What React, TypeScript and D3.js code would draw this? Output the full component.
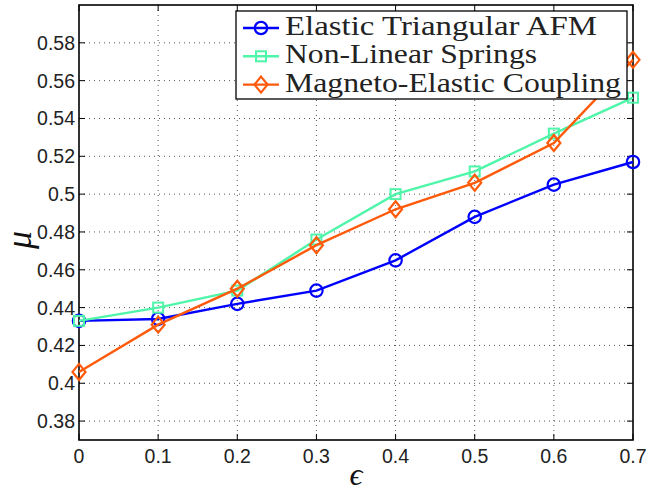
import React from "react";
import * as d3 from "d3";

const epsilon = [0, 0.1, 0.2, 0.3, 0.4, 0.5, 0.6, 0.7];
const elasticAFM = [0.433, 0.434, 0.442, 0.449, 0.465, 0.488, 0.505, 0.517];
const nonLinearSprings = [0.433, 0.440, 0.449, 0.476, 0.500, 0.512, 0.532, 0.551];
const magnetoElastic = [0.406, 0.431, 0.450, 0.473, 0.492, 0.506, 0.527, 0.571];
const xTicks = [0, 0.1, 0.2, 0.3, 0.4, 0.5, 0.6, 0.7];
const yTicks = [0.38, 0.4, 0.42, 0.44, 0.46, 0.48, 0.5, 0.52, 0.54, 0.56, 0.58];
const seriesNames = ["Elastic Triangular AFM", "Non-Linear Springs", "Magneto-Elastic Coupling"];
const seriesColors = ["#0000ff", "#4ff5a8", "#ff5a0a"];
const seriesMarkers = ["circle", "square", "diamond"];
const legendWidths = [312, 252, 336];

const W = 646, H = 492;
const L = 79, R = 633, T = 5, B = 440;

function Marker({ type, x, y, color }: { type: string; x: number; y: number; color: string }) {
  if (type === "circle") return <circle cx={x} cy={y} r={6.2} fill="none" stroke={color} strokeWidth={2.2} />;
  if (type === "square") return <rect x={x - 5} y={y - 5} width={10} height={10} fill="none" stroke={color} strokeWidth={2} />;
  return <path d={`M${x},${y - 8}L${x + 6.5},${y}L${x},${y + 8}L${x - 6.5},${y}Z`} fill="none" stroke={color} strokeWidth={2.2} />;
}

export default function App() {
  const x = d3.scaleLinear().domain([0, 0.7]).range([L, R]);
  const y = d3.scaleLinear().domain([0.37, 0.6]).range([B, T]);
  const data = [elasticAFM, nonLinearSprings, magnetoElastic];
  const line = d3.line<[number, number]>().x((d) => x(d[0])).y((d) => y(d[1]));
  const sans = "'Liberation Sans', Arial, Helvetica, sans-serif";
  const serif = "'Liberation Serif', 'Times New Roman', serif";
  const fmt = (v: number) => d3.format("")(+v.toFixed(2));
  return (
    <svg width={W} height={H} style={{ position: "absolute", left: 0, top: 0, background: "#fff" }}>
      <rect x={0} y={0} width={W} height={H} fill="#fff" />
      {/* grid */}
      {xTicks.slice(1, -1).map((t) => (
        <line key={"gx" + t} x1={x(t)} x2={x(t)} y1={T} y2={B} stroke="#555" strokeWidth={1} strokeDasharray="1,4" />
      ))}
      {yTicks.map((t) => (
        <line key={"gy" + t} x1={L} x2={R} y1={y(t)} y2={y(t)} stroke="#555" strokeWidth={1} strokeDasharray="1,4" />
      ))}
      {/* ticks */}
      {xTicks.map((t) => (
        <g key={"tx" + t}>
          <line x1={x(t)} x2={x(t)} y1={B} y2={B - 6} stroke="#000" />
          <line x1={x(t)} x2={x(t)} y1={T} y2={T + 6} stroke="#000" />
          <text x={x(t)} y={463} fontFamily={sans} fontSize={19.5} textAnchor="middle" fill="#222">{fmt(t)}</text>
        </g>
      ))}
      {yTicks.map((t) => (
        <g key={"ty" + t}>
          <line x1={L} x2={L + 6} y1={y(t)} y2={y(t)} stroke="#000" />
          <line x1={R} x2={R - 6} y1={y(t)} y2={y(t)} stroke="#000" />
          <text x={75} y={y(t)} dy="0.36em" fontFamily={sans} fontSize={19.5} textAnchor="end" fill="#222">{fmt(t)}</text>
        </g>
      ))}
      {/* box */}
      <rect x={L} y={T} width={R - L} height={B - T} fill="none" stroke="#000" strokeWidth={1.6} />
      {/* series */}
      {data.map((vals, i) => (
        <g key={"s" + i}>
          <path d={line(epsilon.map((e, j) => [e, vals[j]] as [number, number])) || ""} fill="none" stroke={seriesColors[i]} strokeWidth={2.4} />
          {epsilon.map((e, j) => (
            <Marker key={j} type={seriesMarkers[i]} x={x(e)} y={y(vals[j])} color={seriesColors[i]} />
          ))}
        </g>
      ))}
      {/* legend */}
      <rect x={236} y={11} width={391} height={88} fill="#fff" stroke="#000" strokeWidth={1.3} />
      {seriesNames.map((n, i) => {
        const ly = 28 + i * 28.3;
        return (
          <g key={"l" + i}>
            <line x1={243} x2={279} y1={ly} y2={ly} stroke={seriesColors[i]} strokeWidth={2.4} />
            <Marker type={seriesMarkers[i]} x={261} y={ly} color={seriesColors[i]} />
            <text x={285} y={ly + 7} fontFamily={serif} fontSize={27} fill="#222" textLength={legendWidths[i]} lengthAdjust="spacingAndGlyphs">{n}</text>
          </g>
        );
      })}
      {/* axis labels */}
      <text transform="translate(31,240) rotate(-90)" fontFamily={serif} fontStyle="italic" fontSize={36} textAnchor="middle" fill="#111">μ</text>
      <text x={356} y={485} fontFamily={serif} fontStyle="italic" fontSize={32} textAnchor="middle" fill="#111">ϵ</text>
    </svg>
  );
}
